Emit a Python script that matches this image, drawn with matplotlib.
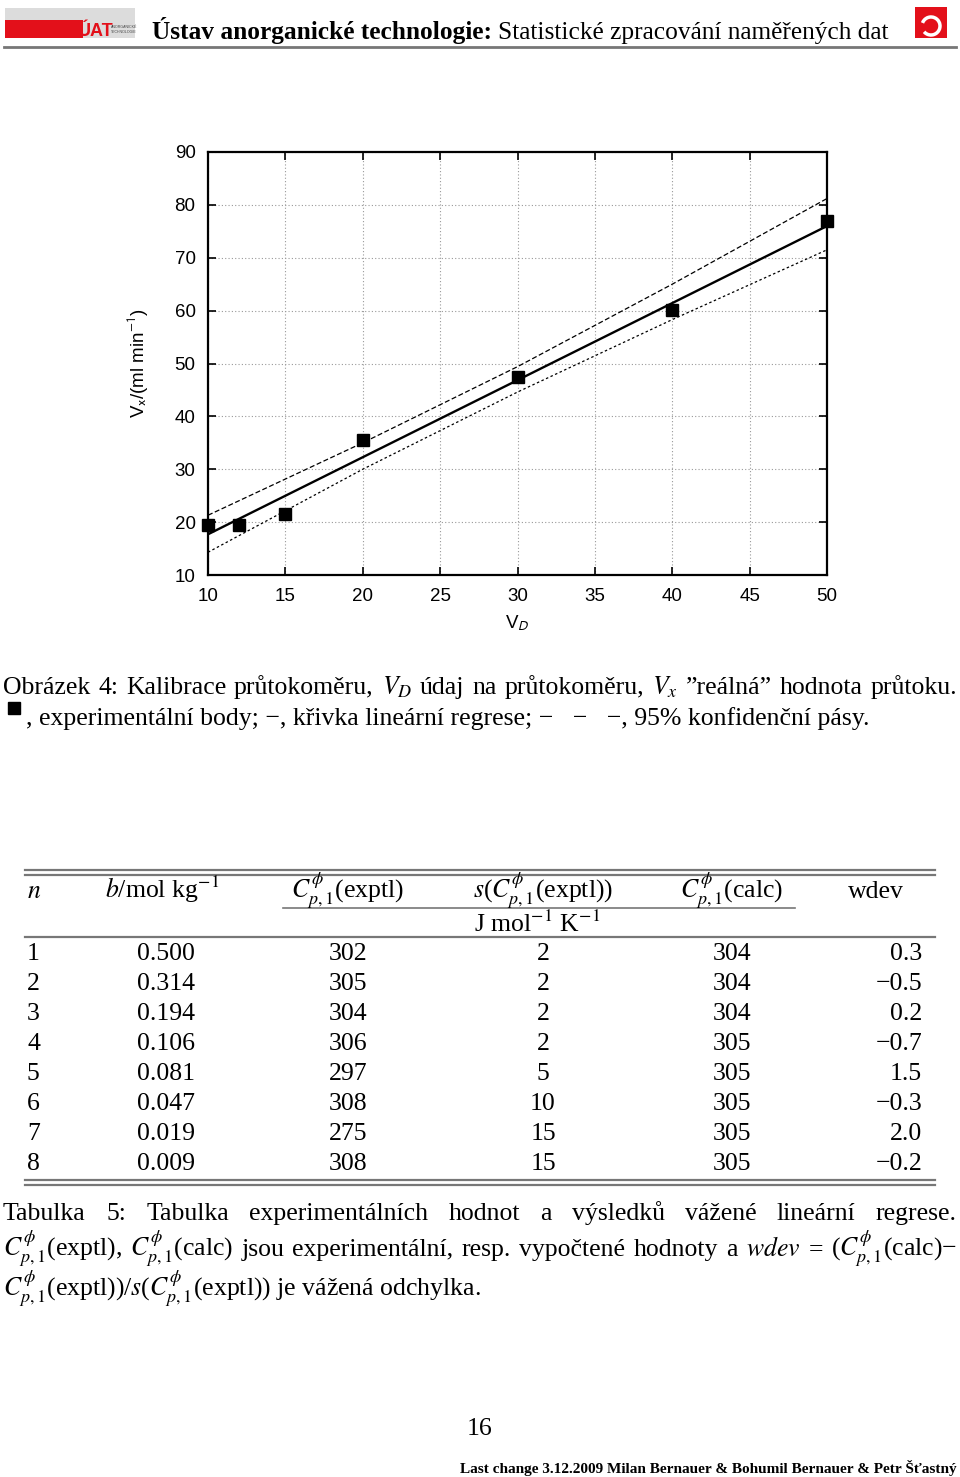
#!/usr/bin/env python3

import matplotlib
matplotlib.use("Agg")
import matplotlib.pyplot as plt
from matplotlib.patches import Rectangle, Arc

plt.rcParams["font.family"] = ["Liberation Serif", "DejaVu Serif"]
plt.rcParams["mathtext.fontset"] = "stix"

# calibration data
vd = [10, 12, 15, 20, 30, 40, 50]
vx = [19.4, 19.4, 21.5, 35.5, 47.4, 60.1, 77.0]
fit_x = [10, 50]
fit_y = [17.7, 76.0]
band_x = [10, 20, 30, 40, 50]
band_hi = [21.3, 35.0, 49.4, 65.0, 81.2]
band_lo = [14.3, 30.0, 44.6, 58.3, 71.5]
x_ticks = [10, 15, 20, 25, 30, 35, 40, 45, 50]
y_ticks = [10, 20, 30, 40, 50, 60, 70, 80, 90]

# table data
col_n = [1, 2, 3, 4, 5, 6, 7, 8]
col_b = ["0.500", "0.314", "0.194", "0.106", "0.081", "0.047", "0.019", "0.009"]
col_exptl = [302, 305, 304, 306, 297, 308, 275, 308]
col_s = [2, 2, 2, 2, 5, 10, 15, 15]
col_calc = [304, 304, 304, 305, 305, 305, 305, 305]
col_wdev = [0.3, -0.5, 0.2, -0.7, 1.5, -0.3, 2.0, -0.2]

W, H = 960, 1477
fig = plt.figure(figsize=(W / 100, H / 100), dpi=100)

# page layer in pixel coordinates
pg = fig.add_axes([0, 0, 1, 1])
pg.set_xlim(0, W)
pg.set_ylim(H, 0)
pg.axis("off")

FS = 18.5
GRAY = "#777777"


def justify(words, y, x0, x1, fs=FS):
    r = fig.canvas.get_renderer()
    txts = [pg.text(0, y, w, fontsize=fs, va="baseline", ha="left") for w in words]
    widths = [t.get_window_extent(r).width for t in txts]
    gap = (x1 - x0 - sum(widths)) / (len(words) - 1)
    x = x0
    for t, w in zip(txts, widths):
        t.set_x(x)
        x += w + gap


# header
pg.add_patch(Rectangle((5, 8), 130, 30, color="#dcdcdc", lw=0))
pg.add_patch(Rectangle((5, 20), 78, 18, color="#e3101a", lw=0))
pg.text(96, 36, "ÚAT", color="#e3101a", fontsize=13, fontweight="bold",
        ha="center", va="baseline", family="Liberation Sans")
pg.text(111, 33, "ANORGANICKÉ\nTECHNOLOGIE", color="#444444", fontsize=2.6,
        ha="left", va="baseline", family="Liberation Sans")
t1 = pg.text(152, 39, "Ústav anorganické technologie:", fontsize=18.3,
             fontweight="bold", va="baseline")
r = fig.canvas.get_renderer()
w1 = t1.get_window_extent(r).width
pg.text(152 + w1 + 6, 39, "Statistické zpracování naměřených dat", fontsize=18.3,
        va="baseline")
pg.add_patch(Rectangle((915, 7), 32, 31, color="#e3101a", lw=0))
pg.add_patch(Arc((931, 26), 18, 18, theta1=200, theta2=500, color="white", lw=2.5))
pg.plot([4, 956], [47, 47], color=GRAY, lw=2)

# chart
ax = fig.add_axes([208 / W, 1 - 575 / H, 619 / W, 423 / H])
ax.plot(band_x, band_hi, color="black", lw=0.9, ls=(0, (4, 2)))
ax.plot(band_x, band_lo, color="black", lw=0.9, ls=(0, (2, 2)))
ax.plot(fit_x, fit_y, color="black", lw=1.7)
ax.plot(vd, vx, "s", color="black", ms=8, clip_on=False, zorder=5)
ax.set_xlim(10, 50)
ax.set_ylim(10, 90)
ax.set_xticks(x_ticks)
ax.set_yticks(y_ticks)
ax.grid(True, ls=(0, (1, 2)), color="#999999", lw=0.8)
for s in ax.spines.values():
    s.set_linewidth(1.6)
ax.tick_params(direction="in", length=6, width=1.2, top=True, right=True,
               labelsize=13.5, pad=9)
for lab in ax.get_xticklabels() + ax.get_yticklabels():
    lab.set_family("Liberation Sans")
ax.set_xlabel(r"V$_D$", family="Liberation Sans", fontsize=13.5,
              math_fontfamily="stixsans", labelpad=6)
ax.set_ylabel(r"V$_\mathrm{x}$/(ml min$^{\mathrm{-1}}$)", family="Liberation Sans",
              fontsize=13.5, math_fontfamily="stixsans", labelpad=18)

# figure caption
justify(["Obrázek", "4:", "Kalibrace", "průtokoměru,", "$V_D$", "údaj", "na",
         "průtokoměru,", "$V_x$", "”reálná”", "hodnota", "průtoku."], 694, 3, 957)
pg.plot([14], [708], "s", color="black", ms=9)
pg.text(26, 725, ", experimentální body; −, křivka lineární regrese; −   −   −, 95% konfidenční pásy.",
        fontsize=FS, va="baseline")

# table
TL, TR = 25, 935
for y in (870, 875, 1180, 1185):
    pg.plot([TL, TR], [y, y], color=GRAY, lw=1.6)
pg.plot([TL, TR], [937, 937], color=GRAY, lw=1.6)
pg.plot([283, 795], [908, 908], color=GRAY, lw=1.2)
hy = 898
pg.text(27, hy, "$n$", fontsize=FS, va="baseline")
pg.text(105, hy, "$b$/mol kg$^{-1}$", fontsize=FS, va="baseline")
pg.text(348, hy, r"$C^{\phi}_{p,1}$(exptl)", fontsize=FS, va="baseline", ha="center")
pg.text(543, hy, r"$s$($C^{\phi}_{p,1}$(exptl))", fontsize=FS, va="baseline", ha="center")
pg.text(731, hy, r"$C^{\phi}_{p,1}$(calc)", fontsize=FS, va="baseline", ha="center")
pg.text(876, hy, "wdev", fontsize=FS, va="baseline", ha="center")
pg.text(537, 932, "J mol$^{-1}$ K$^{-1}$", fontsize=FS, va="baseline", ha="center")

for i in range(len(col_n)):
    y = 960 + 30 * i
    pg.text(27, y, str(col_n[i]), fontsize=FS, va="baseline")
    pg.text(166, y, col_b[i], fontsize=FS, va="baseline", ha="center")
    pg.text(348, y, str(col_exptl[i]), fontsize=FS, va="baseline", ha="center")
    pg.text(543, y, str(col_s[i]), fontsize=FS, va="baseline", ha="center")
    pg.text(732, y, str(col_calc[i]), fontsize=FS, va="baseline", ha="center")
    pg.text(922, y, f"{col_wdev[i]:.1f}".replace("-", "−"), fontsize=FS,
            va="baseline", ha="right")

# table caption
justify(["Tabulka", "5:", "Tabulka", "experimentálních", "hodnot", "a", "výsledků",
         "vážené", "lineární", "regrese."], 1220, 3, 957)
justify([r"$C^{\phi}_{p,1}$(exptl),", r"$C^{\phi}_{p,1}$(calc)", "jsou", "experimentální,",
         "resp.", "vypočtené", "hodnoty", "a", "$wdev$", "=", r"($C^{\phi}_{p,1}$(calc)−"],
        1256, 3, 957)
pg.text(3, 1296, r"$C^{\phi}_{p,1}$(exptl))/$s$($C^{\phi}_{p,1}$(exptl)) je vážená odchylka.",
        fontsize=FS, va="baseline")

# footer
pg.text(480, 1435, "16", fontsize=FS, va="baseline", ha="center")
pg.text(957, 1473, "Last change 3.12.2009 Milan Bernauer & Bohumil Bernauer & Petr Šťastný",
        fontsize=11, fontweight="bold", va="baseline", ha="right")

fig.savefig("out.png", dpi=100)
